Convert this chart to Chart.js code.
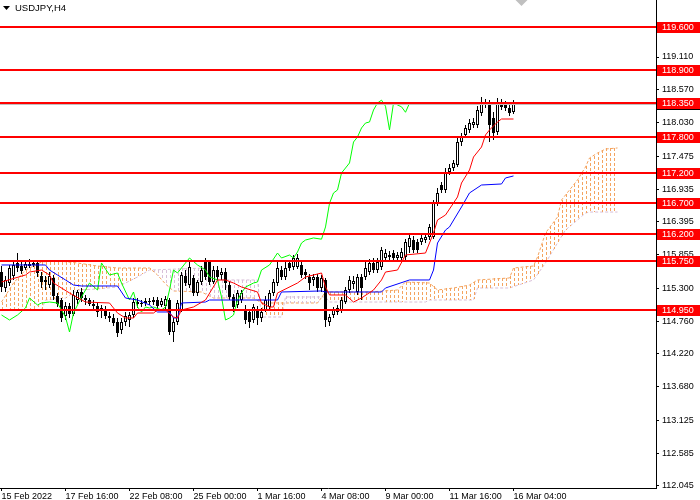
<!DOCTYPE html>
<html lang="en">
<head>
<meta charset="UTF-8">
<title>USDJPY,H4</title>
<script src="https://cdn.jsdelivr.net/npm/chart.js@4.4.1/dist/chart.umd.min.js"></script>
<style>
  html, body { margin: 0; padding: 0; background: #fff; }
  canvas { display: block; }
</style>
</head>
<body>
<canvas id="chart" width="700" height="500"></canvas>
<script>
// H4 bars, index 0 = 15 Feb 2022 00:00
const open = [
  115.569,115.306,115.388,115.504,115.718,115.668,115.635,115.668,115.685,115.718,
  115.504,115.405,115.355,115.471,115.174,115.108,114.845,115.010,114.878,115.108,
  115.240,115.141,115.108,115.042,115.010,114.927,114.960,114.845,114.812,114.746,
  114.614,114.746,114.779,114.861,115.075,115.042,115.059,115.092,115.075,115.108,
  115.026,115.010,115.108,114.581,114.746,114.944,115.504,115.355,115.471,115.224,
  115.405,115.734,115.734,115.405,115.602,115.520,115.569,115.355,115.158,115.026,
  115.108,114.944,114.911,114.779,114.944,114.812,114.944,114.993,115.224,115.388,
  115.602,115.487,115.718,115.652,115.652,115.685,115.569,115.487,115.438,115.487,
  115.306,115.438,114.746,114.861,114.911,114.944,115.075,115.273,115.372,115.240,
  115.487,115.487,115.569,115.718,115.602,115.652,115.800,115.849,115.882,115.800,
  115.800,115.816,115.981,116.096,116.063,116.063,116.096,116.146,116.146,116.706,
  117.002,116.920,117.216,117.282,117.332,117.710,117.826,117.908,117.990,117.990,
  118.188,118.353,118.353,118.106,117.875,118.353,118.320,118.270,118.204
];
const high = [
  115.668,115.504,115.685,115.734,115.882,115.734,115.767,115.784,115.751,115.767,
  115.569,115.504,115.569,115.520,115.224,115.141,115.075,115.059,115.273,115.273,
  115.306,115.191,115.141,115.108,115.075,115.026,115.010,114.911,114.878,114.812,
  114.812,114.911,114.911,115.141,115.141,115.108,115.141,115.141,115.158,115.158,
  115.141,115.174,115.141,114.812,115.108,115.569,115.602,115.734,115.520,115.438,
  115.668,115.800,115.767,115.668,115.668,115.635,115.635,115.405,115.207,115.273,
  115.273,115.026,114.960,115.042,115.010,114.977,115.174,115.273,115.454,115.734,
  115.668,115.734,115.767,115.849,115.866,115.734,115.619,115.537,115.537,115.537,
  115.520,115.471,114.878,114.993,115.026,115.158,115.322,115.504,115.504,115.537,
  115.537,115.734,115.784,115.800,115.800,115.981,115.948,115.915,115.932,115.899,
  115.965,116.113,116.212,116.162,116.113,116.179,116.195,116.360,116.755,116.953,
  117.052,117.282,117.348,117.414,117.776,117.859,117.990,118.089,118.106,118.303,
  118.451,118.419,118.402,118.204,118.435,118.419,118.386,118.336,118.402
];
const low = [
  115.240,115.240,115.339,115.438,115.569,115.537,115.602,115.635,115.652,115.487,
  115.306,115.273,115.306,115.108,114.993,114.746,114.779,114.812,114.845,115.042,
  115.075,115.026,115.010,114.944,114.828,114.812,114.795,114.746,114.680,114.499,
  114.548,114.680,114.664,114.812,114.977,114.993,115.010,115.026,115.026,114.977,
  114.993,114.960,114.532,114.417,114.697,114.911,115.339,115.306,115.174,115.174,
  115.355,115.438,115.355,115.372,115.438,115.438,115.273,115.108,114.911,114.977,
  115.059,114.713,114.647,114.730,114.697,114.746,114.911,114.944,115.174,115.339,
  115.438,115.438,115.586,115.602,115.619,115.471,115.454,115.273,115.339,115.240,
  115.240,114.664,114.680,114.812,114.861,114.894,115.042,115.224,115.290,115.191,
  115.108,115.438,115.520,115.553,115.553,115.602,115.734,115.751,115.734,115.751,
  115.751,115.767,115.882,115.882,115.882,116.014,116.047,116.096,116.113,116.656,
  116.871,116.871,117.167,117.233,117.299,117.645,117.776,117.859,117.941,117.941,
  118.139,118.270,117.710,117.743,117.826,118.237,118.221,118.139,118.172
];
const close = [
  115.322,115.438,115.635,115.685,115.635,115.586,115.701,115.701,115.718,115.553,
  115.405,115.438,115.504,115.174,115.042,114.812,115.010,114.878,115.191,115.240,
  115.141,115.108,115.042,115.010,114.911,114.977,114.845,114.812,114.730,114.565,
  114.746,114.845,114.861,115.075,115.042,115.059,115.092,115.075,115.108,115.010,
  115.092,115.125,114.581,114.746,115.059,115.520,115.388,115.652,115.224,115.405,
  115.602,115.487,115.405,115.602,115.487,115.569,115.388,115.158,114.993,115.224,
  115.224,114.779,114.746,114.993,114.812,114.911,115.108,115.224,115.405,115.635,
  115.487,115.635,115.635,115.800,115.800,115.520,115.520,115.388,115.487,115.306,
  115.471,114.779,114.828,114.944,114.977,115.108,115.273,115.438,115.421,115.487,
  115.306,115.635,115.718,115.602,115.734,115.932,115.882,115.816,115.800,115.849,
  115.899,116.063,116.129,115.932,115.932,116.129,116.146,116.311,116.706,116.871,
  116.920,117.200,117.282,117.365,117.710,117.793,117.941,118.023,118.040,118.237,
  118.353,118.320,117.990,117.859,118.353,118.287,118.270,118.188,118.336
];

// Ichimoku lines, [bar, price] where the line bends
const tenkan = [[0,115.405],[6,115.520],[7,115.569],[10,115.602],[12,115.520],[13,115.388],[17,115.224],[21,115.075],[27,115.059],[29,114.894],[31,114.812],[33,114.812],[34,114.894],[38,114.894],[39,114.944],[41,114.944],[43,114.828],[44,114.812],[45,114.944],[48,114.993],[51,115.108],[54,115.438],[56,115.438],[58,115.388],[60,115.322],[64,115.240],[65,115.059],[67,114.993],[68,114.993],[69,115.224],[74,115.388],[76,115.487],[80,115.553],[81,115.322],[82,115.191],[86,115.191],[88,115.075],[90,115.141],[93,115.273],[95,115.438],[96,115.569],[99,115.602],[101,115.850],[106,115.882],[107,116.047],[108,116.212],[109,116.426],[111,116.508],[114,116.805],[115,117.035],[117,117.249],[118,117.463],[120,117.628],[121,117.826],[122,117.908],[124,118.040],[125,118.089],[128,118.089]];
const kijun = [[0,115.685],[11,115.685],[12,115.602],[14,115.520],[16,115.438],[18,115.355],[20,115.339],[29,115.339],[30,115.240],[31,115.141],[34,115.108],[37,115.026],[39,114.911],[42,114.911],[43,114.812],[44,114.812],[45,115.059],[51,115.075],[52,115.108],[69,115.108],[70,115.240],[80,115.257],[81,115.240],[95,115.240],[96,115.306],[102,115.438],[107,115.438],[108,115.602],[109,116.047],[111,116.261],[112,116.311],[115,116.640],[116,116.755],[117,116.871],[120,117.002],[125,117.019],[126,117.118],[128,117.151]];
const chikou = [[0,114.861],[2,114.779],[4,114.861],[6,114.977],[7,115.141],[9,115.026],[10,115.059],[12,115.075],[14,115.059],[16,114.828],[17,114.581],[18,114.894],[20,115.158],[21,115.273],[22,115.388],[24,115.273],[25,115.718],[27,115.520],[29,115.553],[30,115.388],[32,115.108],[33,115.240],[34,114.993],[35,114.911],[36,114.993],[37,114.977],[38,114.993],[40,114.944],[41,114.993],[42,115.273],[43,115.602],[44,115.553],[46,115.718],[47,115.800],[49,115.685],[51,115.602],[52,115.487],[54,115.438],[55,115.158],[56,114.779],[57,114.812],[58,114.861],[59,115.108],[60,115.224],[61,115.322],[63,115.388],[64,115.405],[65,115.602],[67,115.685],[69,115.882],[70,115.800],[72,115.849],[73,115.800],[74,115.899],[75,116.047],[76,116.096],[78,116.130],[80,116.110],[81,116.311],[82,116.700],[83,116.871],[84,116.920],[85,117.200],[86,117.282],[87,117.365],[88,117.710],[89,117.793],[90,117.941],[91,118.023],[92,118.040],[93,118.237],[94,118.353],[95,118.400],[96,118.300],[97,117.910],[98,118.353],[99,118.320],[100,118.290],[101,118.200],[102,118.350]];
const spanA = [[0,115.075],[3,115.388],[6,115.602],[10,115.734],[14,115.751],[19,115.718],[24,115.668],[29,115.635],[37,115.635],[39,115.520],[41,115.372],[43,115.257],[50,115.240],[53,115.141],[63,115.141],[65,115.059],[79,115.059],[81,115.240],[92,115.240],[99,115.273],[101,115.405],[107,115.388],[109,115.273],[113,115.306],[117,115.355],[119,115.438],[127,115.471],[128,115.635],[133,115.668],[134,115.816],[136,116.212],[139,116.475],[140,116.755],[142,116.920],[144,117.085],[146,117.299],[147,117.447],[149,117.529],[151,117.595],[154,117.612]];
const spanB = [[0,114.944],[10,114.944],[11,115.108],[16,115.141],[19,115.273],[24,115.290],[29,115.322],[31,115.388],[34,115.487],[37,115.602],[51,115.635],[53,115.438],[64,115.438],[65,114.828],[70,114.828],[71,115.158],[81,115.158],[82,115.075],[106,115.075],[107,115.108],[118,115.108],[119,115.306],[127,115.306],[133,115.438],[136,115.718],[139,116.047],[141,116.261],[144,116.426],[146,116.540],[147,116.557],[154,116.557]];

const levels = [119.600, 118.900, 118.350, 117.800, 117.200, 116.700, 116.200, 115.750, 114.950];
const yTicks = [119.110, 118.570, 118.030, 117.475, 116.935, 116.395, 115.855, 115.300, 114.760, 114.220, 113.680, 113.125, 112.585, 112.045];
const tickBars = [0, 16, 32, 48, 64, 80, 96, 112, 128];
const dateLabels = ['15 Feb 2022', '17 Feb 16:00', '22 Feb 08:00', '25 Feb 00:00', '1 Mar 16:00', '4 Mar 08:00', '9 Mar 00:00', '11 Mar 16:00', '16 Mar 04:00'];

Chart.defaults.font.family = 'Liberation Sans';
Chart.defaults.font.size = 9;
Chart.defaults.color = '#000';

const pts = arr => arr.map(p => ({x: p[0], y: p[1]}));
const bid = close[close.length - 1];

// kumo: a dotted vertical stroke per bar between the two span lines,
// drawn right after the span lines so the candles still sit on top
const cloud = {
  id: 'cloud',
  afterDatasetDraw(chart, args) {
    if (args.meta.label !== 'Senkou A') return;
    const {ctx, scales: {x}} = chart;
    const metas = chart.data.datasets.map((d, i) => chart.getDatasetMeta(i));
    const la = metas.find(m => m.label === 'Senkou A').dataset;
    const lb = metas.find(m => m.label === 'Senkou B').dataset;
    const first = Math.max(spanA[0][0], spanB[0][0]);
    const last = Math.min(spanA[spanA.length - 1][0], spanB[spanB.length - 1][0]);
    ctx.save();
    for (let i = first; i <= last; i++) {
      const px = Math.round(x.getPixelForValue(i) + 0.5);
      const a = la.interpolate({x: px}, 'x');
      const b = lb.interpolate({x: px}, 'x');
      if (!a || !b || a.y === undefined || b.y === undefined) continue;
      ctx.fillStyle = a.y <= b.y ? 'rgb(244,164,96)' : 'rgb(216,191,216)';
      const top = 2 * Math.round(Math.min(a.y, b.y) / 2);
      const bot = Math.round(Math.max(a.y, b.y));
      for (let yy = top; yy < bot; yy += 5) {
        ctx.fillRect(px, yy, 1, Math.min(3, bot - yy));
      }
    }
    ctx.restore();
  }
};

const overlay = {
  id: 'overlay',
  afterDatasetsDraw(chart) {
    const {ctx, chartArea: a, scales: {y}} = chart;
    ctx.save();
    const by = Math.round(y.getPixelForValue(bid)) + 0.5;
    ctx.strokeStyle = '#C0C0C0';
    ctx.lineWidth = 1;
    ctx.beginPath(); ctx.moveTo(a.left, by); ctx.lineTo(a.right, by); ctx.stroke();
    ctx.strokeStyle = '#FF0000';
    ctx.lineWidth = 2;
    levels.forEach(v => {
      const p = Math.round(y.getPixelForValue(v));
      ctx.beginPath(); ctx.moveTo(a.left, p); ctx.lineTo(a.right, p); ctx.stroke();
    });
    ctx.restore();
  },
  afterDraw(chart) {
    const {ctx, chartArea: a, scales: {x, y}} = chart;
    ctx.save();
    ctx.font = '9px "Liberation Sans"';
    ctx.textBaseline = 'middle';
    // current price box, mostly hidden under the 118.350 label
    let p = Math.round(y.getPixelForValue(bid));
    ctx.fillStyle = '#000';
    ctx.fillRect(a.right + 1, p - 5, 43, 11);
    levels.forEach(v => {
      p = Math.round(y.getPixelForValue(v));
      ctx.fillStyle = '#FF0000';
      ctx.fillRect(a.right + 1, p - 5, 43, 11);
      ctx.fillStyle = '#FFF';
      ctx.fillText(v.toFixed(3), a.right + 6, p + 0.5);
    });
    // title
    ctx.fillStyle = '#000';
    ctx.beginPath(); ctx.moveTo(3, 6); ctx.lineTo(10, 6); ctx.lineTo(6.5, 10); ctx.closePath(); ctx.fill();
    ctx.font = '9.5px "Liberation Sans"';
    ctx.fillText('USDJPY,H4', 15, 8);
    // chart shift marker
    const sx = x.getPixelForValue(open.length + 1);
    ctx.fillStyle = '#C0C0C0';
    ctx.beginPath(); ctx.moveTo(sx - 6, 0); ctx.lineTo(sx + 6, 0); ctx.lineTo(sx, 6); ctx.closePath(); ctx.fill();
    ctx.restore();
  }
};

new Chart(document.getElementById('chart'), {
  type: 'bar',
  data: {
    datasets: [
      {
        type: 'line', label: 'Tenkan', data: pts(tenkan), order: 2,
        borderColor: '#FF0000', borderWidth: 1, pointRadius: 0, fill: false
      },
      {
        type: 'line', label: 'Kijun', data: pts(kijun), order: 3,
        borderColor: '#0000FF', borderWidth: 1, pointRadius: 0, fill: false
      },
      {
        type: 'line', label: 'Chikou', data: pts(chikou), order: 4,
        borderColor: '#00FF00', borderWidth: 1, pointRadius: 0, fill: false
      },
      {
        label: 'Body', data: open.map((o, i) => ({x: i, y: [o, close[i]]})), order: 7,
        backgroundColor: open.map((o, i) => close[i] >= o ? '#FFFFFF' : '#000000'),
        borderColor: '#000', borderWidth: 1, borderSkipped: false,
        barThickness: 3, grouped: false, inflateAmount: 0
      },
      {
        label: 'Wick', data: open.map((o, i) => ({x: i, y: [low[i], high[i]]})), order: 8,
        backgroundColor: '#000', borderWidth: 0,
        barThickness: 1, grouped: false, inflateAmount: 0
      },
      {
        type: 'line', label: 'Senkou A', data: pts(spanA), order: 10,
        borderColor: '#F4A460', borderWidth: 1, borderDash: [3, 2], pointRadius: 0, fill: false
      },
      {
        type: 'line', label: 'Senkou B', data: pts(spanB), order: 10,
        borderColor: '#D8BFD8', borderWidth: 1, borderDash: [3, 2], pointRadius: 0, fill: false
      }
    ]
  },
  options: {
    responsive: false,
    devicePixelRatio: 1,
    animation: false,
    events: [],
    layout: {padding: 0},
    plugins: {legend: {display: false}, tooltip: {enabled: false}},
    scales: {
      x: {
        type: 'linear',
        min: -0.375,
        max: 163.625,
        offset: false,
        grid: {offset: false, drawOnChartArea: false, tickLength: 3, tickColor: '#000'},
        border: {color: '#000'},
        afterBuildTicks: s => { s.ticks = tickBars.map(v => ({value: v})); },
        afterFit: s => { s.height = 12; s.paddingLeft = 0; s.paddingRight = 0; },
        ticks: {
          autoSkip: false, maxRotation: 0, align: 'start', padding: 0,
          callback: (v, i) => dateLabels[i]
        }
      },
      y: {
        position: 'right',
        min: 112.012,
        max: 120.049,
        grid: {drawOnChartArea: false, tickLength: 3, tickColor: '#000'},
        border: {color: '#000'},
        afterBuildTicks: s => { s.ticks = yTicks.map(v => ({value: v})); },
        afterFit: s => { s.width = 44; s.paddingTop = 0; s.paddingBottom = 0; },
        ticks: {padding: 3, callback: v => v.toFixed(3)}
      }
    }
  },
  plugins: [cloud, overlay]
});
</script>
</body>
</html>
